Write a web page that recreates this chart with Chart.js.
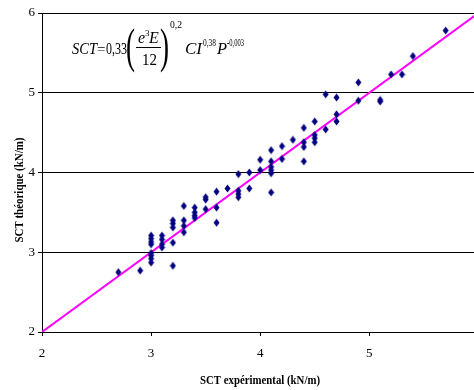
<!DOCTYPE html>
<html>
<head>
<meta charset="utf-8">
<script src="https://cdn.jsdelivr.net/npm/chart.js@4.4.1/dist/chart.umd.min.js"></script>
<style>
  body { margin: 0; background: #fff; }
  #wrap { width: 474px; height: 390px; }
</style>
</head>
<body>
<div id="wrap"><canvas id="scatterChart" width="474" height="390"></canvas></div>
<script>
// data
const sctExp = [
  2.7, 2.9,
  3.0, 3.0, 3.0, 3.0, 3.0, 3.0, 3.0, 3.0,
  3.1, 3.1, 3.1, 3.1,
  3.2, 3.2, 3.2, 3.2, 3.2,
  3.3, 3.3, 3.3, 3.3,
  3.4, 3.4, 3.4, 3.4,
  3.5, 3.5, 3.5,
  3.6, 3.6, 3.6,
  3.7,
  3.8, 3.8, 3.8, 3.8,
  3.9, 3.9,
  4.0, 4.0,
  4.1, 4.1, 4.1, 4.1, 4.1, 4.1,
  4.2, 4.2,
  4.3,
  4.4, 4.4, 4.4, 4.4,
  4.5, 4.5, 4.5, 4.5,
  4.6, 4.6,
  4.7, 4.7, 4.7,
  4.9, 4.9,
  5.1, 5.1,
  5.2, 5.3, 5.4, 5.7
];
const sctTheo = [
  2.75, 2.77,
  3.21, 3.17, 3.13, 3.10, 2.99, 2.96, 2.92, 2.87,
  3.21, 3.16, 3.10, 3.06,
  3.40, 3.36, 3.31, 3.12, 2.83,
  3.58, 3.40, 3.33, 3.25,
  3.56, 3.50, 3.46, 3.43,
  3.69, 3.66, 3.54,
  3.76, 3.56, 3.37,
  3.80,
  3.98, 3.77, 3.73, 3.69,
  4.00, 3.80,
  4.16, 4.03,
  4.28, 4.14, 4.07, 4.03, 3.99, 3.75,
  4.33, 4.17,
  4.41,
  4.56, 4.38, 4.32, 4.14,
  4.64, 4.47, 4.43, 4.38,
  4.98, 4.54,
  4.94, 4.73, 4.64,
  5.13, 4.90,
  4.91, 4.89,
  5.23, 5.23, 5.46, 5.78
];
const lineX = [2, 6];
const lineY = [2, 6];
const xTicks = [2, 3, 4, 5];
const yTicks = [2, 3, 4, 5, 6];

// tall diamond marker
const marker = document.createElement('canvas');
marker.width = 7;
marker.height = 9;
const mctx = marker.getContext('2d');
mctx.fillStyle = '#000080';
mctx.beginPath();
mctx.moveTo(3.5, 0.5);
mctx.lineTo(6.5, 4.5);
mctx.lineTo(3.5, 8.5);
mctx.lineTo(0.5, 4.5);
mctx.closePath();
mctx.fill();

const serif = '"Liberation Serif", "DejaVu Serif", serif';

// formula + axis titles
const textPlugin = {
  id: 'texts',
  afterDraw(chart) {
    const ctx = chart.ctx;
    ctx.save();
    ctx.fillStyle = '#000';
    ctx.textBaseline = 'alphabetic';
    ctx.textAlign = 'left';
    const put = (txt, x, y, font, w) => { ctx.font = font; ctx.fillText(txt, x, y, w); };

    put('SCT', 72, 54, 'italic 17px ' + serif, 25);
    put('=', 97, 54, '15px ' + serif, 9);
    put('0,33', 106, 54, '16px ' + serif, 21);
    put('(', 126, 62, '48px ' + serif, 9);
    put('e', 138, 43, 'italic 16px ' + serif, 8);
    put('3', 145, 36, '9px ' + serif, 5);
    put('E', 149, 43, 'italic 16px ' + serif, 12);
    ctx.fillRect(136, 47, 25, 1);
    put('12', 142, 65, '16px ' + serif, 15);
    put(')', 160, 62, '48px ' + serif, 9);
    put('0,2', 170, 28, '11px ' + serif, 12);
    put('CI', 185, 54, 'italic 17px ' + serif, 18);
    put('0,38', 203, 46, '11px ' + serif, 13);
    put('P', 217, 54, 'italic 17px ' + serif, 10);
    put('-0,003', 227, 46, '11px ' + serif, 17);

    ctx.textAlign = 'center';
    ctx.textBaseline = 'middle';
    put('SCT expérimental (kN/m)', 260, 381, 'bold 13px ' + serif, 120);
    ctx.translate(20, 190);
    ctx.rotate(-Math.PI / 2);
    put('SCT théorique (kN/m)', 0, 0, 'bold 13px ' + serif, 105);
    ctx.restore();
  }
};

const ctx = document.getElementById('scatterChart').getContext('2d');
new Chart(ctx, {
  type: 'scatter',
  data: {
    datasets: [{
      label: 'points',
      data: sctExp.map((x, i) => ({ x: x, y: sctTheo[i] })),
      pointStyle: marker,
      pointRadius: 4,
      order: 1
    }, {
      type: 'line',
      label: 'y = x',
      data: lineX.map((x, i) => ({ x: x, y: lineY[i] })),
      borderColor: '#ff00ff',
      borderWidth: 2,
      pointRadius: 0,
      fill: false,
      order: 2
    }]
  },
  options: {
    responsive: false,
    animation: false,
    layout: { autoPadding: false, padding: { top: 13, right: 0, left: 0, bottom: 0 } },
    plugins: {
      legend: { display: false },
      tooltip: { enabled: false }
    },
    scales: {
      x: {
        type: 'linear',
        min: 2,
        max: 5.96,
        afterBuildTicks: (s) => { s.ticks = xTicks.map(v => ({ value: v })); },
        afterFit: (s) => { s.height = 58; s.paddingRight = 0; s.paddingLeft = 0; },
        ticks: { color: '#000', padding: 10, font: { family: serif, size: 13 } },
        grid: { drawOnChartArea: false, drawTicks: true, tickLength: 4, color: '#000' },
        border: { color: '#000', width: 1 }
      },
      y: {
        min: 2,
        max: 6,
        afterBuildTicks: (s) => { s.ticks = yTicks.map(v => ({ value: v })); },
        afterFit: (s) => { s.width = 42; s.paddingTop = 0; s.paddingBottom = 0; },
        ticks: { color: '#000', padding: 3, font: { family: serif, size: 13 } },
        grid: { color: '#000', tickLength: 4 },
        border: { color: '#000', width: 1 }
      }
    }
  },
  plugins: [textPlugin]
});
</script>
</body>
</html>
